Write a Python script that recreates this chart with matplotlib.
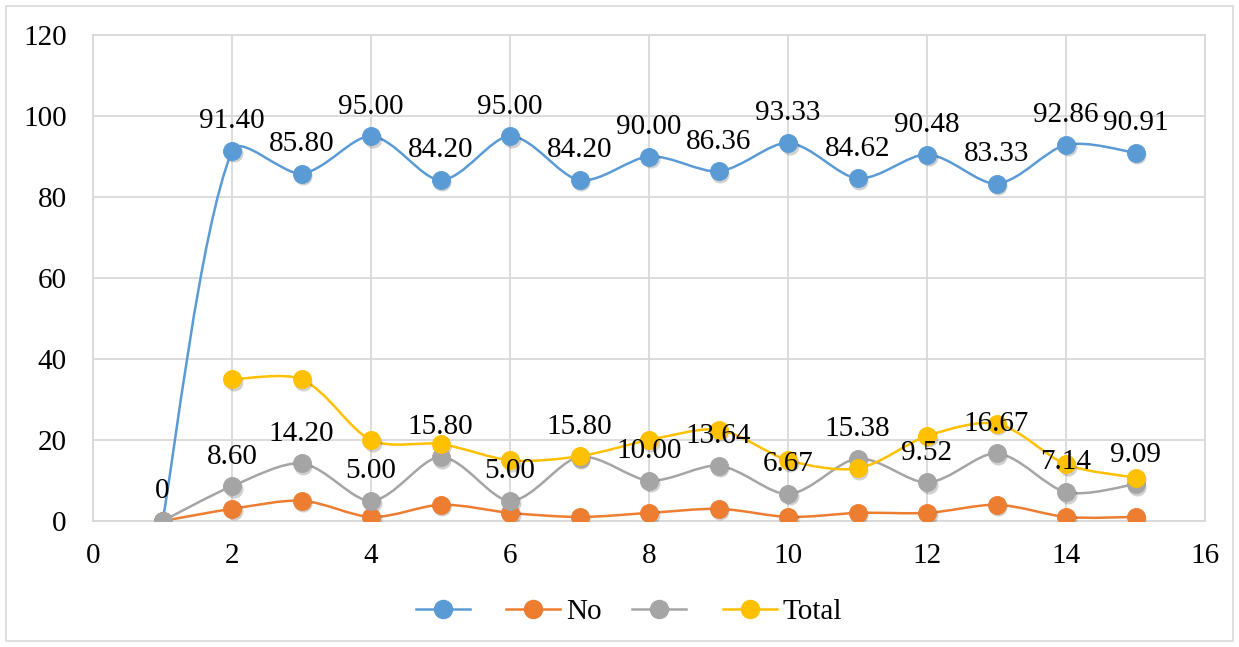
import matplotlib
matplotlib.use("Agg")
import matplotlib.pyplot as plt
from matplotlib.path import Path
from matplotlib.patches import PathPatch, Rectangle
from matplotlib.transforms import ScaledTranslation
import math

plt.rcParams['font.family'] = ['Liberation Serif', 'DejaVu Serif']

# Data
x_all = [1, 2, 3, 4, 5, 6, 7, 8, 9, 10, 11, 12, 13, 14, 15]
blue_vals = [0, 91.40, 85.80, 95.00, 84.20, 95.00, 84.20, 90.00, 86.36, 93.33,
             84.62, 90.48, 83.33, 92.86, 90.91]
no_vals = [0, 3, 5, 1, 4, 2, 1, 2, 3, 1, 2, 2, 4, 1, 1]
gray_vals = [0, 8.60, 14.20, 5.00, 15.80, 5.00, 15.80, 10.00, 13.64, 6.67,
             15.38, 9.52, 16.67, 7.14, 9.09]
x_total = [2, 3, 4, 5, 6, 7, 8, 9, 10, 11, 12, 13, 14, 15]
total_vals = [35, 35, 20, 19, 15, 16, 20, 22.5, 15, 13, 21, 24, 14, 10.7]

blue_labels = ['0'] + [f'{v:.2f}' for v in blue_vals[1:]]
gray_labels = [f'{v:.2f}' for v in gray_vals[1:]]

x_ticks = [0, 2, 4, 6, 8, 10, 12, 14, 16]
y_ticks = [0, 20, 40, 60, 80, 100, 120]

C_BLUE = '#5B9BD5'
C_ORANGE = '#ED7D31'
C_GRAY = '#A5A5A5'
C_YELLOW = '#FFC000'
FS = 21

# approximate pixel size of one data unit, used to balance the curve tangents
SX, SY = 69.5, 4.05


def smooth_path(xs, ys):
    """Bezier path through the points with distance-weighted tangents."""
    n = len(xs)
    pts = list(zip(xs, ys))

    def dist(a, b):
        return math.hypot((a[0] - b[0]) * SX, (a[1] - b[1]) * SY)

    verts = [pts[0]]
    codes = [Path.MOVETO]
    for i in range(n - 1):
        p0 = pts[i - 1] if i > 0 else pts[i]
        p1 = pts[i]
        p2 = pts[i + 1]
        p3 = pts[i + 2] if i + 2 < n else pts[i + 1]
        d01, d12, d23 = dist(p0, p1), dist(p1, p2), dist(p2, p3)
        f1 = d12 / (d01 + d12) / 3 if d01 > 0 else 1 / 6
        f2 = d12 / (d12 + d23) / 3.6 if d23 > 0 else 1 / 6
        c1 = (p1[0] + (p2[0] - p0[0]) * f1, p1[1] + (p2[1] - p0[1]) * f1)
        c2 = (p2[0] - (p3[0] - p1[0]) * f2, p2[1] - (p3[1] - p1[1]) * f2)
        verts += [c1, c2, p2]
        codes += [Path.CURVE4] * 3
    return Path(verts, codes)


fig = plt.figure(figsize=(12.39, 6.47), dpi=100)
fig.patches.append(Rectangle((6 / 1239, 6 / 647), 1 - 12 / 1239, 1 - 12 / 647,
                             transform=fig.transFigure, fill=False,
                             edgecolor='#D9D9D9', linewidth=1.2))

ax = fig.add_axes([93 / 1239, 1 - 521 / 647, (1205 - 93) / 1239, (521 - 35) / 647])
ax.set_xlim(0, 16)
ax.set_ylim(0, 120)
ax.set_xticks(x_ticks)
ax.set_yticks(y_ticks)
ax.tick_params(axis='both', length=0, labelsize=FS)
ax.tick_params(axis='x', pad=16)
ax.tick_params(axis='y', pad=19)
ax.grid(True, color='#D9D9D9', linewidth=1.3)
ax.set_axisbelow(True)
for s in ax.spines.values():
    s.set_color('#D9D9D9')
    s.set_linewidth(1.3)

series = [
    (x_all, blue_vals, C_BLUE),
    (x_all, no_vals, C_ORANGE),
    (x_all, gray_vals, C_GRAY),
    (x_total, total_vals, C_YELLOW),
]

shadow_tf = ax.transData + ScaledTranslation(1.5 / 100, -2.5 / 100, fig.dpi_scale_trans)

for z, (xs, ys, c) in enumerate(series):
    ax.add_patch(PathPatch(smooth_path(xs, ys), fill=False, edgecolor=c,
                           linewidth=1.8, zorder=2 + z * 0.01))
for z, (xs, ys, c) in enumerate(series):
    ax.plot(xs, ys, linestyle='none', marker='o', markersize=13,
            markerfacecolor='#000000', markeredgecolor='none', alpha=0.18,
            transform=shadow_tf, zorder=2.9)
    ax.plot(xs, ys, linestyle='none', marker='o', markersize=13,
            markerfacecolor=c, markeredgecolor=c, markeredgewidth=0.6,
            zorder=3 + z * 0.01)

# Value labels
for i, (xv, yv) in enumerate(zip(x_all, blue_vals)):
    ax.annotate(blue_labels[i], (xv, yv), xytext=(0, 12), textcoords='offset points',
                ha='center', va='bottom', fontsize=FS, zorder=5)
for xv, yv, lab in zip(x_all[1:], gray_vals[1:], gray_labels):
    ax.annotate(lab, (xv, yv), xytext=(0, 12), textcoords='offset points',
                ha='center', va='bottom', fontsize=FS, zorder=5)

# Legend
handles = []
for xs, ys, c in series:
    h, = ax.plot([], [], color=c, linewidth=1.8, marker='o', markersize=13,
                 markerfacecolor=c, markeredgecolor=c)
    handles.append(h)
leg = fig.legend(handles, ['', 'No', '', 'Total'], loc='center',
                 bbox_to_anchor=(629 / 1239, 1 - 612 / 647), ncol=4, frameon=False,
                 fontsize=FS, handlelength=1.85, handletextpad=0.2, columnspacing=1.05)

fig.savefig('out.png', dpi=100)
